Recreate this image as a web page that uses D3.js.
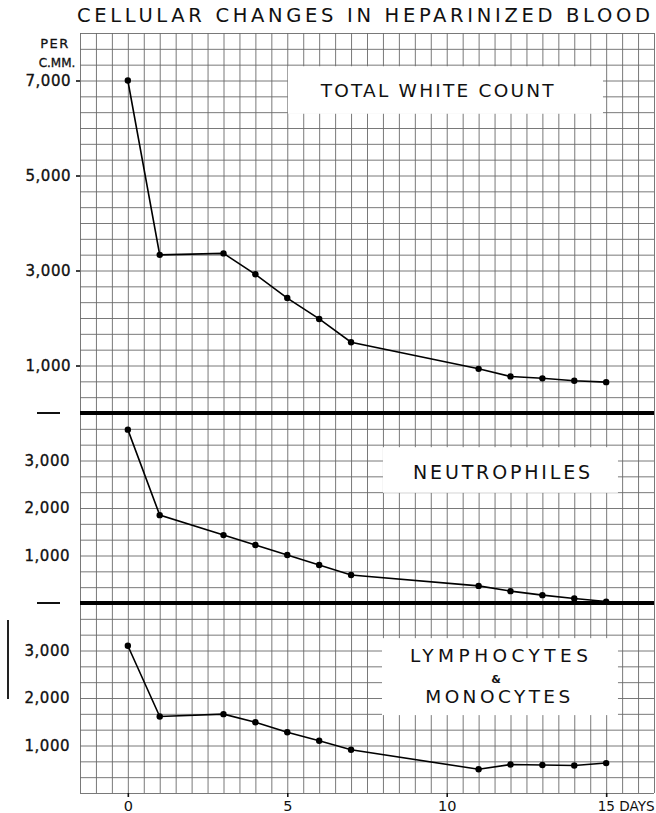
<!DOCTYPE html>
<html>
<head>
<meta charset="utf-8">
<script src="https://d3js.org/d3.v7.min.js"></script>
<style>
  body { margin: 0; background: #fff; }
  text { font-family: "DejaVu Sans", sans-serif; fill: #111; }
  .grid line { stroke: #6a6a6a; stroke-width: 0.9; }
  .grid path { display: none; }
  .yax path, .xax path { display: none; }
  .yax line, .xax line { stroke: #111; stroke-width: 1.6; }
</style>
</head>
<body>
<div id="chart"></div>
<script>

// data
var days = [0, 1, 3, 4, 5, 6, 7, 11, 12, 13, 14, 15];
var totalWhite   = [7000, 3330, 3360, 2920, 2420, 1980, 1490, 930, 770, 730, 680, 650];
var neutrophiles = [3650, 1850, 1430, 1220, 1010, 800, 590, 360, 250, 165, 95, 30];
var lymphoMono   = [3100, 1610, 1660, 1490, 1280, 1100, 910, 500, 600, 590, 580, 630];

var topTicks = [1000, 3000, 5000, 7000];
var lowTicks = [1000, 2000, 3000];
var dayTicks = [0, 5, 10, 15];

var W = 656, H = 813;
var gLeft = 80, gRight = 654, gTop = 33, gBottom = 793;

var svg = d3.select("#chart")
  .append("svg")
  .attr("width", W)
  .attr("height", H);

var x = d3.scaleLinear().domain([-1.5, 16.5]).range([gLeft, gRight]);

// three panels stacked, same cell size
var yTop = d3.scaleLinear().domain([0, 8000]).range([413, gTop]);
var yMid = d3.scaleLinear().domain([0, 4000]).range([603, 413]);
var yLow = d3.scaleLinear().domain([0, 4000]).range([gBottom, 603]);

// title
svg.append("text")
  .attr("x", 363.5).attr("y", 22)
  .attr("text-anchor", "middle")
  .attr("font-size", 19.5)
  .attr("textLength", 573)
  .attr("lengthAdjust", "spacing")
  .text("CELLULAR CHANGES IN HEPARINIZED BLOOD");

// vertical grid lines, every half day
svg.append("g")
  .attr("class", "grid")
  .attr("transform", "translate(0," + gBottom + ")")
  .call(d3.axisBottom(x)
    .tickValues(d3.range(0, 37).map(function(i) { return -1.5 + i * 0.5; }))
    .tickSize(-(gBottom - gTop))
    .tickFormat(""));

// horizontal grid lines, three per 1000
function hgrid(y, n) {
  svg.append("g")
    .attr("class", "grid")
    .attr("transform", "translate(" + gLeft + ",0)")
    .call(d3.axisLeft(y)
      .tickValues(d3.range(0, n + 1).map(function(i) { return i * 1000 / 3; }))
      .tickSize(-(gRight - gLeft))
      .tickFormat(""));
}
hgrid(yTop, 24);
hgrid(yMid, 12);
hgrid(yLow, 12);

// white label boxes
function box(y, d0, d1, v0, v1) {
  svg.append("rect")
    .attr("x", x(d0)).attr("y", y(v1))
    .attr("width", x(d1) - x(d0))
    .attr("height", y(v0) - y(v1))
    .attr("fill", "#fff");
}
box(yTop, 5.02, 14.9, 6300, 7300);
box(yMid, 8.0, 15.37, 2320, 3280);
box(yLow, 7.97, 15.37, 1640, 3260);

function label(txt, px, py, size, len) {
  var t = svg.append("text")
    .attr("x", px).attr("y", py)
    .attr("text-anchor", "middle")
    .attr("font-size", size)
    .text(txt);
  if (len) t.attr("textLength", len).attr("lengthAdjust", "spacing");
  return t;
}
label("TOTAL WHITE COUNT", x(9.7), yTop(6650), 18.5, 233);
label("NEUTROPHILES", x(11.72), yMid(2610), 19, 177);
label("LYMPHOCYTES", x(11.64), yLow(2758), 18.5, 178);
label("&", x(11.55), yLow(2316), 11, null).attr("font-weight", "bold");
label("MONOCYTES", x(11.6), yLow(1895), 18.5, 145);

// thick separators between panels
[yTop(0), yLow(4000)].forEach(function(yy) {
  svg.append("line")
    .attr("x1", gLeft).attr("x2", gRight)
    .attr("y1", yy).attr("y2", yy)
    .attr("stroke", "#000").attr("stroke-width", 4);
  svg.append("line")
    .attr("x1", 37).attr("x2", 60)
    .attr("y1", yy).attr("y2", yy)
    .attr("stroke", "#111").attr("stroke-width", 2);
});

// y axes
svg.append("g")
  .attr("class", "yax")
  .attr("transform", "translate(" + gLeft + ",0)")
  .call(d3.axisLeft(yTop).tickValues(topTicks).tickSize(4).tickPadding(5).tickFormat(d3.format(",")));
svg.append("g")
  .attr("class", "yax")
  .attr("transform", "translate(" + gLeft + ",0)")
  .call(d3.axisLeft(yMid).tickValues(lowTicks).tickSize(0).tickPadding(10).tickFormat(d3.format(",")));
svg.append("g")
  .attr("class", "yax")
  .attr("transform", "translate(" + gLeft + ",0)")
  .call(d3.axisLeft(yLow).tickValues(lowTicks).tickSize(0).tickPadding(10).tickFormat(d3.format(",")));

svg.selectAll(".yax text")
  .attr("font-family", "DejaVu Sans, sans-serif")
  .attr("font-size", 15)
  .attr("letter-spacing", 0.5)
  .attr("fill", "#111")
  .attr("stroke", "#111")
  .attr("stroke-width", 0.35);

svg.append("text").attr("x", 55).attr("y", 48).attr("text-anchor", "middle")
  .attr("font-size", 13).attr("letter-spacing", 1.5)
  .attr("stroke", "#111").attr("stroke-width", 0.3).text("PER");
svg.append("text").attr("x", 57).attr("y", 66.5).attr("text-anchor", "middle")
  .attr("font-size", 12).attr("stroke", "#111").attr("stroke-width", 0.3).text("C.MM.");

// x axis
var xax = svg.append("g")
  .attr("class", "xax")
  .attr("transform", "translate(0," + gBottom + ")")
  .call(d3.axisBottom(x).tickValues(dayTicks).tickSize(4).tickPadding(4)
    .tickFormat(function(d) { return d === 15 ? "15 DAYS" : d; }));
xax.selectAll("text")
  .attr("font-family", "DejaVu Sans, sans-serif")
  .attr("font-size", 14.5)
  .attr("fill", "#111");
xax.selectAll("text").filter(function(d) { return d === 15; })
  .attr("text-anchor", "start")
  .attr("x", -9)
  .attr("font-size", 14)
  .attr("textLength", 57)
  .attr("lengthAdjust", "spacingAndGlyphs");

// series
function series(vals, y) {
  var pts = days.map(function(d, i) { return [d, vals[i]]; });
  svg.append("path")
    .datum(pts)
    .attr("fill", "none")
    .attr("stroke", "#000")
    .attr("stroke-width", 1.6)
    .attr("d", d3.line()
      .x(function(p) { return x(p[0]); })
      .y(function(p) { return y(p[1]); }));
  svg.append("g")
    .selectAll("circle")
    .data(pts)
    .enter()
    .append("circle")
    .attr("cx", function(p) { return x(p[0]); })
    .attr("cy", function(p) { return y(p[1]); })
    .attr("r", 3.2)
    .attr("fill", "#000");
}
series(totalWhite, yTop);
series(neutrophiles, yMid);
series(lymphoMono, yLow);

// scan mark at the far left of the lower panel
svg.append("line")
  .attr("x1", 8).attr("x2", 8)
  .attr("y1", 620).attr("y2", 699)
  .attr("stroke", "#222").attr("stroke-width", 2);

</script>
</body>
</html>
